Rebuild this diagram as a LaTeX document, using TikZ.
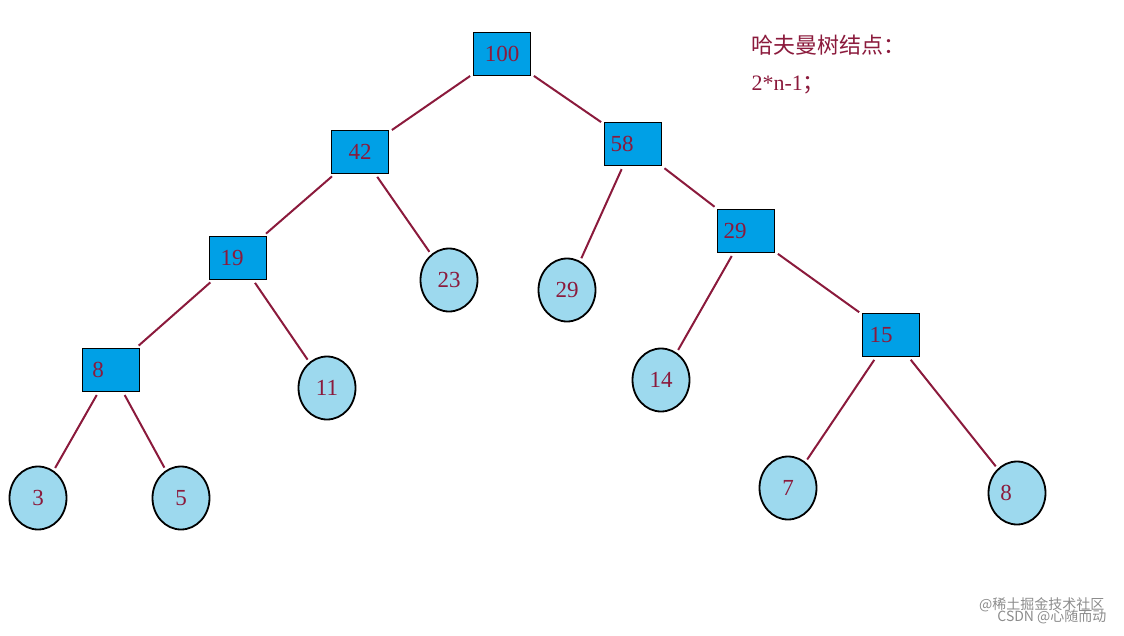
\documentclass[tikz,border=0pt]{standalone}
\usepackage{fontspec}
\setmainfont{Liberation Serif}
\newfontfamily\cjk{Noto Sans CJK SC}
\usetikzlibrary{shapes.geometric}
\definecolor{txt}{HTML}{8B1A3C}
\definecolor{boxc}{HTML}{00A0E6}
\definecolor{circc}{HTML}{9DD9EE}
\begin{document}
\begin{tikzpicture}[x=1pt,y=-1pt,
  sq/.style={draw=black,line width=1.8pt,fill=boxc,minimum width=57pt,minimum height=43pt,inner sep=0pt,font=\fontsize{23}{23}\selectfont,text=txt},
  cir/.style={ellipse,draw=black,line width=1.8pt,fill=circc,minimum width=57pt,minimum height=63pt,inner sep=0pt,font=\fontsize{23}{23}\selectfont,text=txt},
  ed/.style={draw=txt,line width=2pt,shorten <=3pt,shorten >=3pt}]
\useasboundingbox (0,0) rectangle (1124,635);
\node[sq] (n100) at (502,54) {\raisebox{-4pt}{100}};
\node[sq] (n42) at (360,152) {\raisebox{-6pt}{42}};
\node[sq] (n58) at (633,144) {\hspace*{-22pt}\raisebox{-10pt}{58}};
\node[sq] (n29) at (746,231) {\hspace*{-22pt}\raisebox{-10pt}{29}};
\node[sq] (n19) at (238,258) {\hspace*{-12pt}\raisebox{-12pt}{19}};
\node[sq] (n15) at (891,335) {\hspace*{-20pt}\raisebox{-2pt}{15}};
\node[sq] (n8) at (111,370) {\hspace*{-26pt}\raisebox{-8pt}{8}};
\node[cir] (c23) at (449,280) {23};
\node[cir] (c29) at (567,290) {29};
\node[cir] (c11) at (327,388) {11};
\node[cir] (c14) at (661,380) {\raisebox{-14pt}{14}};
\node[cir] (c3) at (38,498) {\raisebox{-8pt}{3}};
\node[cir] (c5) at (181,498) {\raisebox{-12pt}{5}};
\node[cir] (c7) at (788,488) {7};
\node[cir] (c8) at (1017,493) {\hspace*{-22pt}\raisebox{-8pt}{8}};
\draw[ed] (n100) -- (n42);
\draw[ed] (n100) -- (n58);
\draw[ed] (n42) -- (n19);
\draw[ed] (n42) -- (c23);
\draw[ed] (n58) -- (c29);
\draw[ed] (n58) -- (n29);
\draw[ed] (n29) -- (c14);
\draw[ed] (n29) -- (n15);
\draw[ed] (n19) -- (n8);
\draw[ed] (n19) -- (c11);
\draw[ed] (n15) -- (c7);
\draw[ed] (n15) -- (c8);
\draw[ed] (n8) -- (c3);
\draw[ed] (n8) -- (c5);
\node[anchor=west,text=txt,font=\cjk\fontsize{22}{22}\selectfont] (t1) at (748,45) {哈夫曼树结点：};
\node[anchor=west,text=txt,font=\fontsize{22}{22}\selectfont] (t2) at (748,85) {2*n-1{\cjk ；}};
\node[anchor=east,text=black!45,font=\cjk\fontsize{14}{14}\selectfont] (w1) at (1108,605) {@稀土掘金技术社区};
\node[anchor=east,text=black!45,font=\cjk\fontsize{14}{14}\selectfont] (w2) at (1110,617) {CSDN @心随而动};
\end{tikzpicture}
\end{document}
